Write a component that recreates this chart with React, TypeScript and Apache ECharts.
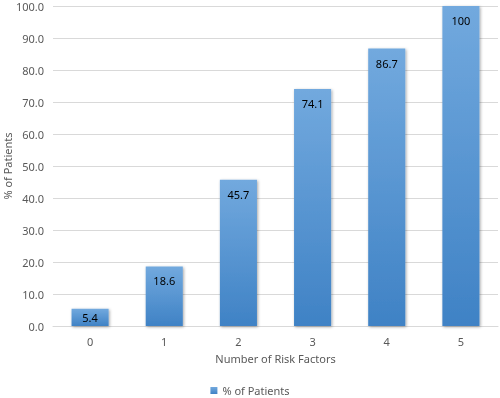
import React, { useEffect, useRef } from "react";
import * as echarts from "echarts";

const categories = ["0", "1", "2", "3", "4", "5"];
const values = [5.4, 18.6, 45.7, 74.1, 86.7, 100];
const labels = ["5.4", "18.6", "45.7", "74.1", "86.7", "100"];
const seriesName = "% of Patients";
const xTitle = "Number of Risk Factors";
const yTitle = "% of Patients";

export default function App() {
  const ref = useRef<HTMLDivElement>(null);
  useEffect(() => {
    if (!ref.current) return;
    const chart = echarts.init(ref.current, null, { renderer: "svg" });
    const font = "Noto Sans";
    const grad = new echarts.graphic.LinearGradient(0, 0, 0, 1, [
      { offset: 0, color: "#72a9de" },
      { offset: 1, color: "#3f82c5" },
    ]);
    chart.setOption({
      animation: false,
      textStyle: { fontFamily: font },
      grid: {
        left: 53,
        right: 2,
        top: 6,
        bottom: 72,
        containLabel: false,
        outerBoundsMode: "none",
      },
      legend: {
        bottom: -3,
        left: "center",
        itemWidth: 7,
        itemHeight: 7,
        itemGap: 3,
        icon: "rect",
        textStyle: { fontFamily: font, fontSize: 11, color: "#595959" },
        data: [seriesName],
      },
      xAxis: {
        type: "category",
        data: categories,
        name: xTitle,
        nameLocation: "middle",
        nameGap: 27,
        nameTextStyle: { fontFamily: font, fontSize: 11, color: "#595959" },
        axisLine: { lineStyle: { color: "#d9d9d9" } },
        axisTick: { show: false },
        axisLabel: { fontFamily: font, fontSize: 11, color: "#595959", margin: 10 },
      },
      yAxis: {
        type: "value",
        min: 0,
        max: 100,
        interval: 10,
        name: yTitle,
        nameLocation: "middle",
        nameGap: 40,
        nameMoveOverlap: false,
        nameTextStyle: { fontFamily: font, fontSize: 11, color: "#595959" },
        axisLine: { show: false },
        axisTick: { show: false },
        splitLine: { lineStyle: { color: "#d9d9d9" } },
        axisLabel: {
          fontFamily: font,
          fontSize: 11,
          color: "#595959",
          margin: 9,
          formatter: (v: number) => v.toFixed(1),
        },
      },
      series: [
        {
          name: seriesName,
          type: "bar",
          barWidth: "50%",
          data: values.map((v, i) => ({
            value: v,
            label: i === 0 ? { position: "inside" } : undefined,
          })),
          itemStyle: {
            color: grad,
            shadowBlur: 3,
            shadowColor: "rgba(0,0,0,0.35)",
            shadowOffsetX: 1,
            shadowOffsetY: 1,
          },
          label: {
            show: true,
            position: "insideTop",
            distance: 9,
            fontFamily: font,
            fontSize: 11,
            color: "#000000",
            formatter: (p: any) => labels[p.dataIndex],
          },
        },
      ],
    });
    return () => chart.dispose();
  }, []);
  return (
    <div
      ref={ref}
      style={{ position: "fixed", left: 0, top: 0, width: 500, height: 398 }}
    />
  );
}
